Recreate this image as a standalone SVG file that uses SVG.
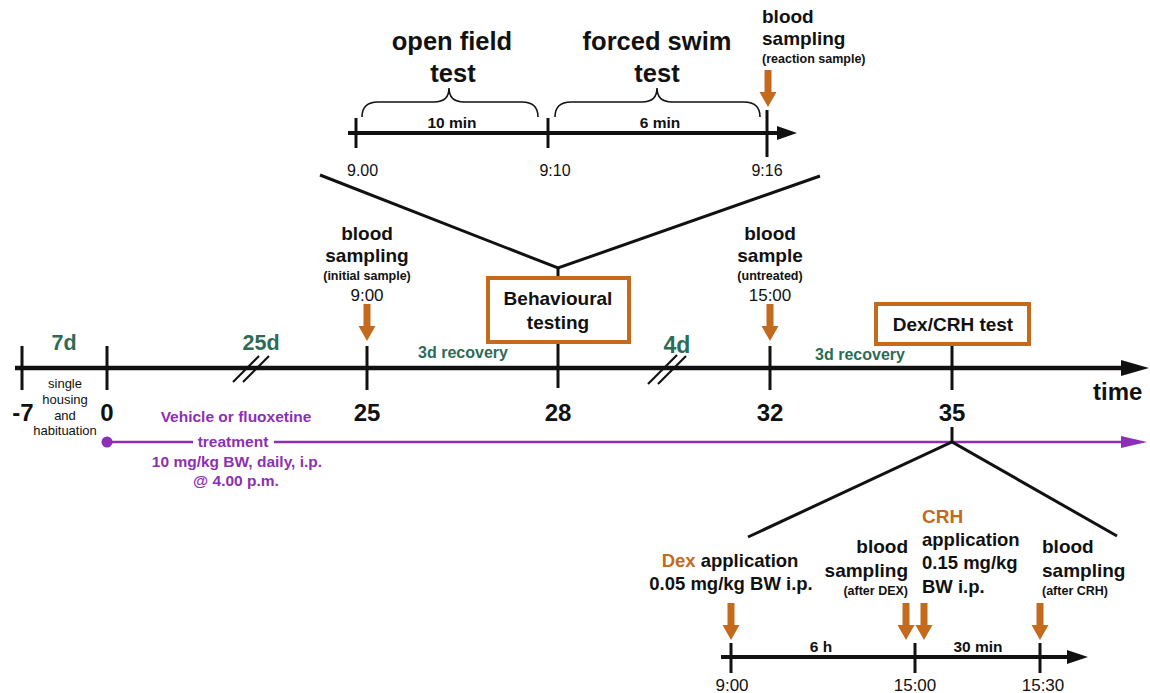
<svg xmlns="http://www.w3.org/2000/svg" width="1150" height="693" viewBox="0 0 1150 693">
<style>
text{font-family:"Liberation Sans",Arial,Helvetica,sans-serif;fill:#111}
.b{font-weight:bold}
.t25{font-size:25.5px;font-weight:bold}
.t19{font-size:19px;font-weight:bold}
.t18{font-size:18.5px;font-weight:bold}
.s{font-size:12.5px;font-weight:bold}
.tm{font-size:17px}
.tm16{font-size:16px}
.num{font-size:24px;font-weight:bold}
.g{fill:#2e6b57;font-weight:bold}
.p{fill:#8d2fb5;font-weight:bold;font-size:15.5px}
.o{fill:#c46a1c}
.dur{font-size:15.5px;font-weight:bold}
.axis{stroke:#111;stroke-width:4.5;fill:none}
.tick{stroke:#111;stroke-width:3;fill:none}
.thin{stroke:#111;stroke-width:3;fill:none}
.brk{stroke:#111;stroke-width:2.2;fill:none}
.brace{stroke:#111;stroke-width:1.6;fill:none}
.box{fill:#fff;stroke:#c46a1c;stroke-width:4}
.c{text-anchor:middle}
.e{text-anchor:end}
</style>
<defs>
<marker id="ahBig" markerUnits="userSpaceOnUse" markerWidth="28" markerHeight="18" refX="0" refY="9" orient="auto"><path d="M0,1 L28,9 L0,17 Z" fill="#111"/></marker>
<marker id="ahPurple" markerUnits="userSpaceOnUse" markerWidth="26" markerHeight="14" refX="0" refY="7" orient="auto"><path d="M0,1 L26,7 L0,13 Z" fill="#8d2fb5"/></marker>
<path id="oarrow" d="M-3.5,0 H3.5 V22 H8.5 L0,37 L-8.5,22 H-3.5 Z" fill="#c46a1c"/>
</defs>

<g id="connectors">
<line class="axis" x1="15" y1="368" x2="1121" y2="368" marker-end="url(#ahBig)"/>
<line class="tick" x1="22" y1="346" x2="22" y2="390"/>
<line class="tick" x1="107" y1="346" x2="107" y2="390"/>
<line class="tick" x1="367" y1="346" x2="367" y2="390"/>
<line class="tick" x1="558" y1="342" x2="558" y2="388"/>
<line class="tick" x1="770" y1="346" x2="770" y2="390"/>
<line class="tick" x1="952" y1="344" x2="952" y2="390"/>
<line class="brk" x1="233" y1="382" x2="259" y2="356"/>
<line class="brk" x1="243" y1="382" x2="269" y2="356"/>
<line class="brk" x1="648" y1="384" x2="677" y2="355"/>
<line class="brk" x1="658" y1="384" x2="686" y2="356"/>
<line x1="107" y1="442" x2="193" y2="442" stroke="#8d2fb5" stroke-width="2.5"/>
<line x1="274" y1="442" x2="1121" y2="442" stroke="#8d2fb5" stroke-width="2.5" marker-end="url(#ahPurple)"/>
<circle cx="107" cy="442" r="5.5" fill="#8d2fb5"/>
<polyline class="thin" points="320,175 558,268 820,176"/>
<line class="thin" x1="558" y1="268" x2="558" y2="278"/>
<line class="thin" x1="952" y1="427" x2="952" y2="442"/>
<polyline class="thin" points="748,537 952,442 1117,536"/>
<line class="axis" x1="348" y1="133" x2="778" y2="133" style="stroke-width:4"/>
<path d="M777,126 L797,133 L777,140 Z" fill="#111"/>
<line class="tick" x1="356" y1="118" x2="356" y2="148"/>
<line class="tick" x1="548" y1="118" x2="548" y2="148"/>
<line class="tick" x1="767" y1="110" x2="767" y2="157"/>
<path class="brace" d="M362,117 Q362,102 378,102 L434,102 Q449,102 449,88 Q449,102 464,102 L522,102 Q538,102 538,117"/>
<path class="brace" d="M555,117 Q555,102 571,102 L642,102 Q657,102 657,88 Q657,102 672,102 L744,102 Q760,102 760,117"/>
<line class="axis" x1="721" y1="657" x2="1068" y2="657" style="stroke-width:4"/>
<path d="M1067,650 L1088,657 L1067,664 Z" fill="#111"/>
<line class="tick" x1="731" y1="643" x2="731" y2="673"/>
<line class="tick" x1="915" y1="643" x2="915" y2="673"/>
<line class="tick" x1="1040" y1="643" x2="1040" y2="673"/>
<use href="#oarrow" x="367" y="304"/>
<use href="#oarrow" x="770" y="304"/>
<use href="#oarrow" x="768" y="70"/>
<use href="#oarrow" x="731" y="603"/>
<use href="#oarrow" x="906" y="603"/>
<use href="#oarrow" x="924" y="603"/>
<use href="#oarrow" x="1040" y="603"/>
</g>

<g id="axis-labels">
<text class="num c" x="23" y="421">-7</text>
<text class="num c" x="107" y="421">0</text>
<text class="num c" x="367" y="421">25</text>
<text class="num c" x="558" y="421">28</text>
<text class="num c" x="770" y="421">32</text>
<text class="num c" x="952" y="421">35</text>
<text class="num" x="1093" y="400">time</text>
<text class="g c" x="64" y="350" style="font-size:21.5px">7d</text>
<text class="g c" x="261" y="350" style="font-size:21.5px">25d</text>
<text class="g c" x="677" y="353" style="font-size:23px">4d</text>
<text class="g c" x="463" y="358" style="font-size:16px">3d recovery</text>
<text class="g c" x="860" y="360" style="font-size:16px">3d recovery</text>
</g>

<g id="habituation">
<text class="c" x="65" y="388" style="font-size:13px">single</text>
<text class="c" x="65" y="404" style="font-size:13px">housing</text>
<text class="c" x="65" y="420" style="font-size:13px">and</text>
<text class="c" x="65" y="435" style="font-size:13px">habituation</text>
</g>

<g id="treatment">
<text class="p c" x="236" y="422">Vehicle or fluoxetine</text>
<text class="p c" x="233" y="447">treatment</text>
<text class="p c" x="237" y="467">10 mg/kg BW, daily, i.p.</text>
<text class="p c" x="236" y="486">@ 4.00 p.m.</text>
</g>

<g id="initial-sample">
<text class="t19 c" x="367" y="240">blood</text>
<text class="t19 c" x="367" y="262">sampling</text>
<text class="s c" x="367" y="280">(initial sample)</text>
<text class="tm c" x="367" y="301">9:00</text>
</g>

<g id="behavioural-testing">
<rect class="box" x="488" y="278" width="141" height="64"/>
<text class="t19 c" x="558" y="305">Behavioural</text>
<text class="t19 c" x="558" y="329">testing</text>
</g>

<g id="untreated-sample">
<text class="t19 c" x="770" y="240">blood</text>
<text class="t19 c" x="770" y="262">sample</text>
<text class="s c" x="770" y="280">(untreated)</text>
<text class="tm c" x="770" y="301">15:00</text>
</g>

<g id="dex-crh-test">
<rect class="box" x="876" y="304" width="153" height="40"/>
<text class="t19 c" x="953" y="331">Dex/CRH test</text>
</g>

<g id="behavioural-detail">
<text class="t25 c" x="452" y="50">open field</text>
<text class="t25 c" x="453" y="82">test</text>
<text class="t25 c" x="657" y="50">forced swim</text>
<text class="t25 c" x="657" y="82">test</text>
<text class="dur c" x="452" y="128">10 min</text>
<text class="dur c" x="660" y="128">6 min</text>
<text class="tm16" x="347" y="176">9.00</text>
<text class="tm16 c" x="555" y="176">9:10</text>
<text class="tm16 c" x="767" y="176">9:16</text>
<text class="t19" x="762" y="23">blood</text>
<text class="t19" x="762" y="45">sampling</text>
<text class="s" x="762" y="63">(reaction sample)</text>
</g>

<g id="dex-crh-detail">
<text class="t18 c" x="730" y="567"><tspan class="o">Dex</tspan> application</text>
<text class="t18 c" x="731" y="590">0.05 mg/kg BW i.p.</text>
<text class="t19 e" x="908" y="553">blood</text>
<text class="t19 e" x="908" y="577">sampling</text>
<text class="s e" x="908" y="595">(after DEX)</text>
<text class="t19 o" x="922" y="523">CRH</text>
<text class="t18" x="922" y="546">application</text>
<text class="t18" x="922" y="569">0.15 mg/kg</text>
<text class="t18" x="922" y="593">BW i.p.</text>
<text class="t19" x="1042" y="553">blood</text>
<text class="t19" x="1042" y="577">sampling</text>
<text class="s" x="1042" y="595">(after CRH)</text>
<text class="dur c" x="821" y="652">6 h</text>
<text class="dur c" x="978" y="652">30 min</text>
<text class="tm c" x="732" y="691">9:00</text>
<text class="tm c" x="915" y="691">15:00</text>
<text class="tm c" x="1043" y="691">15:30</text>
</g>
</svg>
